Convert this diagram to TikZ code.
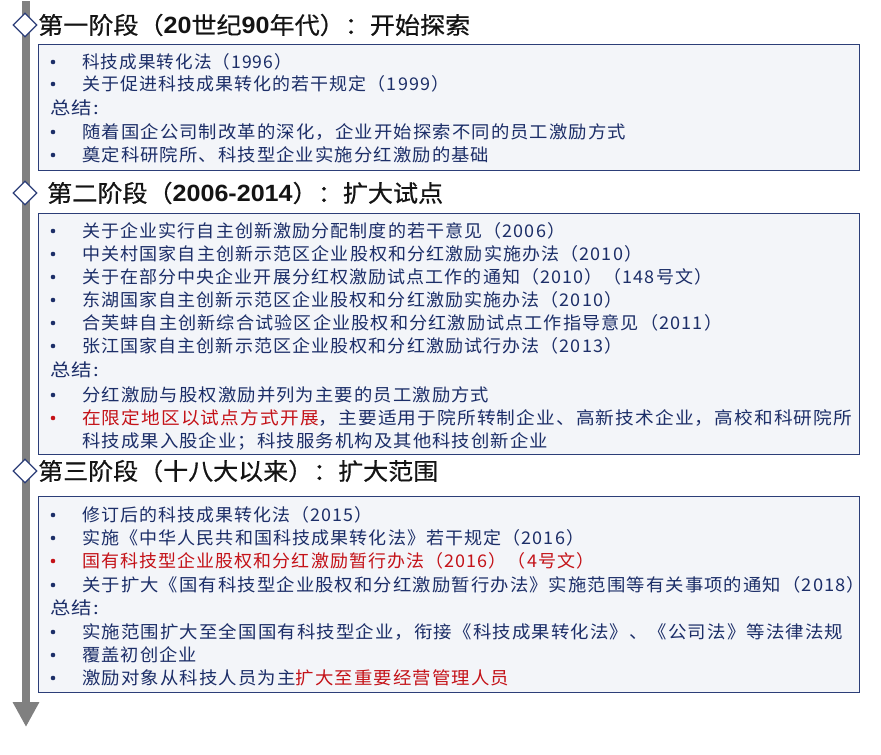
\documentclass[tikz,border=0pt]{standalone}
\usepackage{fontspec}
\usepackage{graphicx}
\usetikzlibrary{arrows.meta,shapes.geometric}
\newfontfamily\cjk[LetterSpace=6]{Noto Sans CJK SC}
\newfontfamily\cjkt[FakeBold=0.6]{Noto Sans CJK SC}
\newfontfamily\lat{Liberation Sans}
\definecolor{navy}{RGB}{28,46,104}
\definecolor{boxline}{RGB}{44,62,120}
\definecolor{boxfill}{RGB}{243,245,249}
\definecolor{redtxt}{RGB}{196,18,24}
\definecolor{bargray}{RGB}{128,128,128}
\definecolor{titlec}{RGB}{20,20,20}
\newcommand\myline[5]{%
  \node[bul, fill=#4] (#1b) at (53,#2) {};
  \node[txt] (#1) at (82,#2) {\resizebox{#3pt}{\height}{#5}};
}
\newcommand\summ[2]{%
  \node[txt] (#1) at (50,#2) {\resizebox{49pt}{\height}{总结:}};
}
\newcommand\rd[1]{{\color{redtxt}#1}}
\newcommand\bd[1]{{\lat\bfseries #1}}
\begin{document}
\begin{tikzpicture}[x=1pt,y=-1pt,
  panel/.style={draw=boxline, fill=boxfill, line width=1.3pt, anchor=north west, inner sep=0pt},
  marker/.style={diamond, draw=boxline, fill=white, line width=1.3pt, minimum width=24pt, minimum height=24pt, inner sep=0pt},
  bul/.style={circle, inner sep=0pt, minimum size=4.6pt},
  txt/.style={anchor=west, inner sep=0pt, text=navy, font=\cjk\fontsize{17.5}{19}\selectfont},
  ttl/.style={anchor=west, inner sep=0pt, text=titlec, font=\cjkt\fontsize{23.5}{26}\selectfont},
  bar/.style={draw=bargray, line width=8pt, -{Triangle[length=25pt,width=25pt]}}
]
\useasboundingbox (0,0) rectangle (881,755);
% timeline arrow
\coordinate (atop) at (26,1);
\coordinate (abot) at (26,727);
\draw[bar] (atop) -- (abot);
% panels
\node[panel, minimum width=821pt, minimum height=126pt] (box1) at (38,44) {};
\node[panel, minimum width=821pt, minimum height=241pt] (box2) at (38,213) {};
\node[panel, minimum width=821pt, minimum height=196pt] (box3) at (38,496) {};
% markers
\node[marker] (d1) at (25,25) {};
\node[marker] (d2) at (25,193) {};
\node[marker] (d3) at (25,471) {};
% titles
\node[ttl] (t1) at (38,25) {\resizebox{432pt}{\height}{第一阶段（\bd{20}世纪\bd{90}年代）：开始探索}};
\node[ttl] (t2) at (47,193) {\resizebox{396pt}{\height}{第二阶段（\bd{2006-2014}）：扩大试点}};
\node[ttl] (t3) at (38,471) {\resizebox{400pt}{\height}{第三阶段（十八大以来）：扩大范围}};
% box 1
\myline{a1}{62}{210}{navy}{科技成果转化法（1996）}
\myline{a2}{84}{367}{navy}{关于促进科技成果转化的若干规定（1999）}
\summ{as}{108}
\myline{a3}{132}{544}{navy}{随着国企公司制改革的深化，企业开始探索不同的员工激励方式}
\myline{a4}{155}{407}{navy}{奠定科研院所、科技型企业实施分红激励的基础}
% box 2
\myline{b1}{231}{483}{navy}{关于企业实行自主创新激励分配制度的若干意见（2006）}
\myline{b2}{254}{560}{navy}{中关村国家自主创新示范区企业股权和分红激励实施办法（2010）}
\myline{b3}{277}{630}{navy}{关于在部分中央企业开展分红权激励试点工作的通知（2010）（148号文）}
\myline{b4}{300}{540}{navy}{东湖国家自主创新示范区企业股权和分红激励实施办法（2010）}
\myline{b5}{323}{640}{navy}{合芙蚌自主创新综合试验区企业股权和分红激励试点工作指导意见（2011）}
\myline{b6}{346}{540}{navy}{张江国家自主创新示范区企业股权和分红激励试行办法（2013）}
\summ{bs}{370}
\myline{b7}{395}{407}{navy}{分红激励与股权激励并列为主要的员工激励方式}
\myline{b8}{418}{770}{redtxt}{\rd{在限定地区以试点方式开展}，主要适用于院所转制企业、高新技术企业，高校和科研院所}
\node[txt] (b9) at (82,441) {\resizebox{466pt}{\height}{科技成果入股企业；科技服务机构及其他科技创新企业}};
% box 3
\myline{c1}{515}{290}{navy}{修订后的科技成果转化法（2015）}
\myline{c2}{538}{502}{navy}{实施《中华人民共和国科技成果转化法》若干规定（2016）}
\myline{c3}{561}{512}{redtxt}{\rd{国有科技型企业股权和分红激励暂行办法（2016）（4号文）}}
\myline{c4}{585}{783}{navy}{关于扩大《国有科技型企业股权和分红激励暂行办法》实施范围等有关事项的通知（2018）}
\summ{cs}{608}
\myline{c5}{632}{761}{navy}{实施范围扩大至全国国有科技型企业，衔接《科技成果转化法》、《公司法》等法律法规}
\myline{c6}{655}{115}{navy}{覆盖初创企业}
\myline{c7}{678}{427}{navy}{激励对象从科技人员为主\rd{扩大至重要经营管理人员}}
\end{tikzpicture}
\end{document}
